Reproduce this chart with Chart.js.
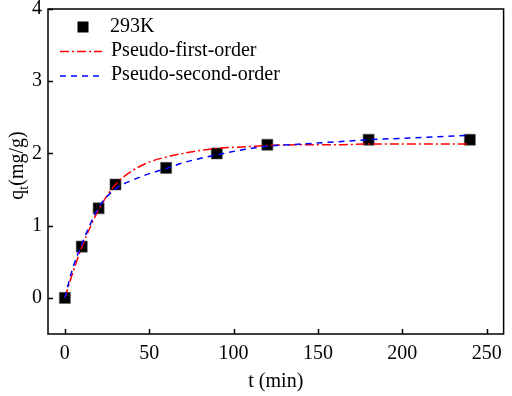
<!DOCTYPE html>
<html>
<head>
<meta charset="utf-8">
<script src="https://cdn.jsdelivr.net/npm/chart.js@4/dist/chart.umd.min.js"></script>
<style>
  html, body { margin: 0; padding: 0; background: #fff; }
</style>
</head>
<body>
<canvas id="kinetics" width="512" height="396"></canvas>
<script>
// experimental points (293K)
var tExp = [0, 10, 20, 30, 60, 90, 120, 180, 240];
var qExp = [0, 0.71, 1.24, 1.57, 1.80, 2.00, 2.12, 2.19, 2.19];

// fitted curves
var tFit = [0, 4, 10, 20, 30, 40, 50, 60, 70, 80, 90, 105, 120, 140, 160, 180, 200, 220, 240];
var qFirst = [0, 0.30, 0.70, 1.22, 1.57, 1.76, 1.88, 1.95, 2.00, 2.04, 2.07, 2.09, 2.11, 2.12, 2.12, 2.13, 2.13, 2.13, 2.13];
var qSecond = [0, 0.36, 0.74, 1.25, 1.51, 1.63, 1.72, 1.79, 1.87, 1.93, 1.98, 2.05, 2.10, 2.13, 2.16, 2.19, 2.21, 2.23, 2.25];

var xTicks = [0, 50, 100, 150, 200, 250];
var yTicks = [0, 1, 2, 3, 4];
var labels = ["293K", "Pseudo-first-order", "Pseudo-second-order"];

function pts(xs, ys) {
	var out = [];
	for (var i = 0; i < xs.length; i++) out.push({x: xs[i], y: ys[i]});
	return out;
}

var FONT = "'Liberation Serif', 'Times New Roman', serif";

// scales should not push the plot box around with label overflow
function noPad(s) {
	s.paddingLeft = s.paddingRight = s.paddingTop = s.paddingBottom = 0;
	s.getPadding = function() { return {left: 0, top: 0, right: 0, bottom: 0}; };
}

// frame, inward ticks, y title with subscript, legend
var decor = {
	id: 'decor',
	afterDraw: function(chart) {
		var ctx = chart.ctx;
		var a = chart.chartArea;
		var xs = chart.scales.x, ys = chart.scales.y;
		ctx.save();
		ctx.strokeStyle = '#000';
		ctx.lineWidth = 1.5;
		ctx.strokeRect(a.left, a.top, a.right - a.left, a.bottom - a.top);
		ctx.beginPath();
		xTicks.forEach(function(v) {
			var p = Math.round(xs.getPixelForValue(v)) + 0.5;
			ctx.moveTo(p, a.bottom);
			ctx.lineTo(p, a.bottom - 5);
		});
		yTicks.forEach(function(v) {
			var p = Math.round(ys.getPixelForValue(v)) + 0.5;
			ctx.moveTo(a.left, p);
			ctx.lineTo(a.left + 5, p);
		});
		ctx.stroke();

		// y title q_t(mg/g)
		ctx.save();
		ctx.translate(17, (a.top + a.bottom) / 2 - 6);
		ctx.rotate(-Math.PI / 2);
		ctx.fillStyle = '#000';
		ctx.textBaseline = 'alphabetic';
		ctx.font = '20px ' + FONT;
		var w1 = ctx.measureText('q').width;
		ctx.font = '14px ' + FONT;
		var w2 = ctx.measureText('t').width;
		ctx.font = '20px ' + FONT;
		var w3 = ctx.measureText('(mg/g)').width;
		var x0 = -(w1 + w2 + w3) / 2;
		ctx.fillText('q', x0, 6);
		ctx.font = '14px ' + FONT;
		ctx.fillText('t', x0 + w1, 11);
		ctx.font = '20px ' + FONT;
		ctx.fillText('(mg/g)', x0 + w1 + w2, 6);
		ctx.restore();

		// legend
		var ds = chart.data.datasets;
		ctx.fillStyle = '#000';
		ctx.fillRect(77.5, 21.5, 11, 11);
		ctx.lineWidth = 1.5;
		[1, 2].forEach(function(i, k) {
			var y = 51.5 + k * 24.5;
			ctx.strokeStyle = ds[i].borderColor;
			ctx.setLineDash(ds[i].borderDash);
			ctx.beginPath();
			ctx.moveTo(60, y);
			ctx.lineTo(102, y);
			ctx.stroke();
		});
		ctx.setLineDash([]);
		ctx.font = '20px ' + FONT;
		ctx.fillStyle = '#000';
		ctx.textBaseline = 'middle';
		ctx.fillText(labels[0], 110, 27);
		ctx.fillText(labels[1], 111, 51);
		ctx.fillText(labels[2], 111, 75);
		ctx.restore();
	}
};

var chart = new Chart(document.getElementById('kinetics'), {
	type: 'scatter',
	data: {
		datasets: [
			{
				label: labels[0],
				data: pts(tExp, qExp),
				pointStyle: 'rect',
				pointRadius: 7.8,
				backgroundColor: '#000',
				borderColor: '#555',
				borderWidth: 0.6,
				order: 3
			},
			{
				label: labels[1],
				data: pts(tFit, qFirst),
				showLine: true,
				pointRadius: 0,
				borderColor: '#ff0000',
				borderWidth: 1.5,
				borderDash: [9, 3, 2, 3],
				cubicInterpolationMode: 'monotone',
				order: 2
			},
			{
				label: labels[2],
				data: pts(tFit, qSecond),
				showLine: true,
				pointRadius: 0,
				borderColor: '#0000ff',
				borderWidth: 1.5,
				borderDash: [6, 5],
				cubicInterpolationMode: 'monotone',
				order: 1
			}
		]
	},
	options: {
		responsive: false,
		animation: false,
		layout: { padding: { top: 9, right: 3, left: 0, bottom: 0 } },
		plugins: {
			legend: { display: false },
			tooltip: { enabled: false }
		},
		scales: {
			x: {
				type: 'linear',
				min: -10,
				max: 260,
				afterBuildTicks: function(s) { s.ticks = xTicks.map(function(v) { return {value: v}; }); },
				afterFit: function(s) { s.height = 62; noPad(s); },
				grid: { display: false, drawTicks: false },
				border: { display: false },
				ticks: { color: '#000', padding: 8, maxRotation: 0, font: { family: FONT, size: 20 } },
				title: { display: true, text: 't (min)', color: '#000', padding: { top: 0, bottom: 2 }, font: { family: FONT, size: 20 } }
			},
			y: {
				min: -0.5,
				max: 4,
				afterBuildTicks: function(s) { s.ticks = yTicks.map(function(v) { return {value: v}; }); },
				afterFit: function(s) { s.width = 48; noPad(s); },
				grid: { display: false, drawTicks: false },
				border: { display: false },
				ticks: { color: '#000', padding: 6, font: { family: FONT, size: 20 } }
			}
		}
	},
	plugins: [decor]
});

// nudge the plot box onto the reference frame (48..509, 9..334)
var pad = chart.options.layout.padding;
var ca = chart.chartArea;
pad.right = pad.right + (ca.right - 509);
pad.top = pad.top + (9 - ca.top);
chart.update();
</script>
</body>
</html>
